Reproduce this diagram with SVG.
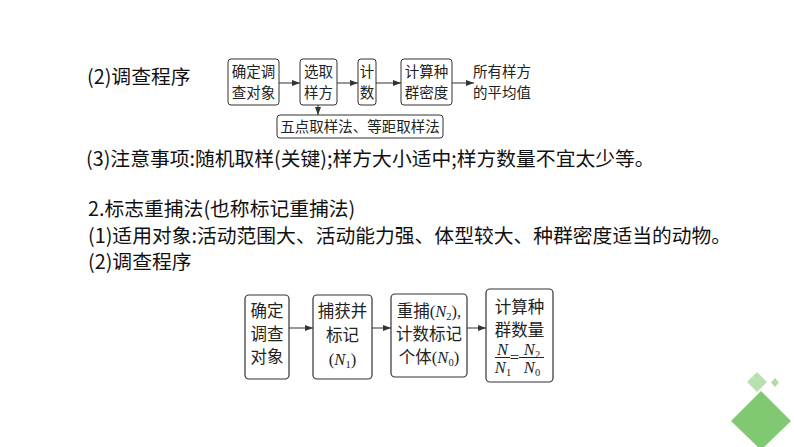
<svg xmlns="http://www.w3.org/2000/svg" width="794" height="447" viewBox="0 0 794 447">
<defs>
<marker id="ah" viewBox="0 0 8 6" refX="8" refY="3" markerWidth="8" markerHeight="6" markerUnits="userSpaceOnUse" orient="auto">
<path d="M0,0 L8,3 L0,6 Z" fill="#333"/>
</marker>
</defs>
<style>
.body{font-family:"Noto Sans CJK SC","Noto Sans",sans-serif;font-size:19.8px;fill:#111}
.box{fill:#fff;stroke:#333;stroke-width:1}
.box2{fill:#fff;stroke:#333;stroke-width:1.2}
.t1{font-family:"Liberation Serif","Noto Sans CJK SC",serif;font-size:14.5px;fill:#222;text-anchor:middle}
.t2{font-family:"Liberation Serif","Noto Sans CJK SC",serif;font-size:16.5px;fill:#222;text-anchor:middle}
.it{font-style:italic}
.sub{font-size:10.5px;font-style:normal}
.con line,.con path{stroke:#333;stroke-width:1;fill:none;marker-end:url(#ah)}
.bar{stroke:#222;stroke-width:1}
</style>
<rect width="794" height="447" fill="#fff"/>

<g id="texts">
<text class="body" x="87" y="84" font-size="20">(2)调查程序</text>
<text class="body" x="86" y="166">(3)注意事项:随机取样(关键);样方大小适中;样方数量不宜太少等。</text>
<text class="body" x="88" y="216">2.标志重捕法(也称标记重捕法)</text>
<text class="body" x="88" y="243">(1)适用对象:活动范围大、活动能力强、体型较大、种群密度适当的动物。</text>
<text class="body" x="88" y="269">(2)调查程序</text>
</g>

<g class="con" id="connectors">
<line x1="279" y1="83" x2="300" y2="83"/>
<line x1="337" y1="83" x2="358" y2="83"/>
<line x1="376" y1="83" x2="401" y2="83"/>
<line x1="452" y1="83" x2="474" y2="83"/>
<line x1="318" y1="105" x2="318" y2="115"/>
<line x1="289" y1="328" x2="313" y2="328"/>
<line x1="372" y1="328" x2="391" y2="328"/>
<line x1="467" y1="328" x2="486" y2="328"/>
</g>

<g id="n1">
<rect class="box" x="228" y="59" width="51" height="46" rx="3"/>
<text class="t1" x="253.5" y="76.5">确定调</text>
<text class="t1" x="253.5" y="98">查对象</text>
</g>
<g id="n2">
<rect class="box" x="300" y="59" width="37" height="46" rx="3"/>
<text class="t1" x="318.5" y="76.5">选取</text>
<text class="t1" x="318.5" y="98">样方</text>
</g>
<g id="n3">
<rect class="box" x="358" y="59" width="18" height="46" rx="3"/>
<text class="t1" x="367" y="76.5">计</text>
<text class="t1" x="367" y="98">数</text>
</g>
<g id="n4">
<rect class="box" x="401" y="59" width="51" height="46" rx="3"/>
<text class="t1" x="426.5" y="76.5">计算种</text>
<text class="t1" x="426.5" y="98">群密度</text>
</g>
<g id="n5">
<text class="t1" x="502" y="76.5" font-size="14">所有样方</text>
<text class="t1" x="502" y="98" font-size="14">的平均值</text>
</g>
<g id="n6">
<rect class="box" x="277" y="115" width="166" height="23" rx="3"/>
<text class="t1" x="360" y="132">五点取样法、等距取样法</text>
</g>

<g id="m1">
<rect class="box2" x="245" y="295" width="44" height="84" rx="4"/>
<text class="t2" x="267" y="317">确定</text>
<text class="t2" x="267" y="340">调查</text>
<text class="t2" x="267" y="363">对象</text>
</g>
<g id="m2">
<rect class="box2" x="313" y="295" width="59" height="84" rx="4"/>
<text class="t2" x="342.5" y="317">捕获并</text>
<text class="t2" x="342.5" y="341">标记</text>
<text class="t2" x="342.5" y="365">(<tspan class="it">N</tspan><tspan class="sub" dy="3">1</tspan><tspan dy="-3">)</tspan></text>
</g>
<g id="m3">
<rect class="box2" x="391" y="294" width="76" height="83" rx="4"/>
<text class="t2" x="429" y="317">重捕(<tspan class="it">N</tspan><tspan class="sub" dy="3">2</tspan><tspan dy="-3">),</tspan></text>
<text class="t2" x="429" y="340">计数标记</text>
<text class="t2" x="429" y="363">个体(<tspan class="it">N</tspan><tspan class="sub" dy="3">0</tspan><tspan dy="-3">)</tspan></text>
</g>
<g id="m4">
<rect class="box2" x="486" y="289" width="67" height="93" rx="4"/>
<text class="t2" x="519.5" y="313">计算种</text>
<text class="t2" x="519.5" y="336">群数量</text>
<text class="t2 it" x="502.5" y="355">N</text>
<line class="bar" x1="495" y1="357.5" x2="510" y2="357.5"/>
<text class="t2" x="503" y="373"><tspan class="it">N</tspan><tspan class="sub" dy="3">1</tspan></text>
<text class="t2" x="514.5" y="362.5" font-size="16">=</text>
<text class="t2" x="532" y="355"><tspan class="it">N</tspan><tspan class="sub" dy="3">2</tspan></text>
<line class="bar" x1="519" y1="357.5" x2="544" y2="357.5"/>
<text class="t2" x="532" y="373"><tspan class="it">N</tspan><tspan class="sub" dy="3">0</tspan></text>
</g>

<g id="decor">
<polygon points="761,391 791,421 761,450 731,421" fill="#80c872"/>
<polygon points="757,372 767,382 757,392 747,382" fill="#b9e0af"/>
<polygon points="775,378 779,382.5 775,387 771,382.5" fill="#b0dba5"/>
</g>
</svg>
